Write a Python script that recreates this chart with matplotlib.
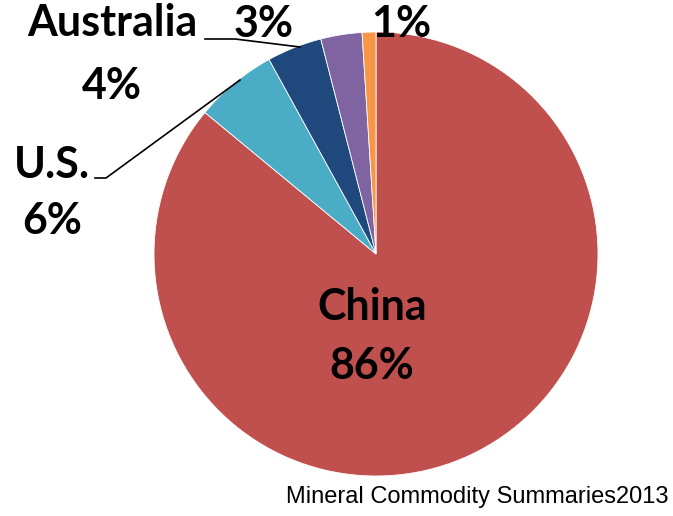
import matplotlib.pyplot as plt

countries = ["China", "U.S.", "Australia", "", ""]
shares = [86, 6, 4, 3, 1]
colors = ["#C0504D", "#4BACC6", "#1F497D", "#8064A2", "#F79646"]

W, H = 673, 516
fig = plt.figure(figsize=(W / 100, H / 100), dpi=100)
ax = fig.add_axes([0, 0, 1, 1])

cx, cy, r = 376, H - 254, 222
ax.pie(shares, colors=colors, startangle=90, counterclock=False,
       center=(cx, cy), radius=r, frame=True,
       wedgeprops=dict(edgecolor="white", linewidth=0.6))
ax.set_xlim(0, W)
ax.set_ylim(0, H)
ax.set_aspect("equal")
ax.axis("off")

lab = dict(family="Lato", fontweight="bold", fontsize=31, ha="center", va="center")

def Y(y):
    return H - y

ax.text(372, Y(307), countries[0], **lab)
ax.text(372, Y(366), f"{shares[0]}%", **lab)
ax.text(52, Y(165), countries[1], **lab)
ax.text(52, Y(221), f"{shares[1]}%", **lab)
ax.text(112, Y(23), countries[2], **lab)
ax.text(112, Y(86), f"{shares[2]}%", **lab)
ax.text(264, Y(24), f"{shares[3]}%", **lab)
ax.text(401, Y(24), f"{shares[4]}%", **lab)

# leader lines
ax.plot([95, 106, 240], [Y(178), Y(178), Y(80)], color="black", lw=1.2)
ax.plot([205, 235, 300], [Y(39), Y(39), Y(47)], color="black", lw=1.2)

ax.text(668, Y(497), "Mineral Commodity Summaries2013", family="Liberation Sans",
        fontsize=17, ha="right", va="center")

fig.savefig("out.png", dpi=100)
